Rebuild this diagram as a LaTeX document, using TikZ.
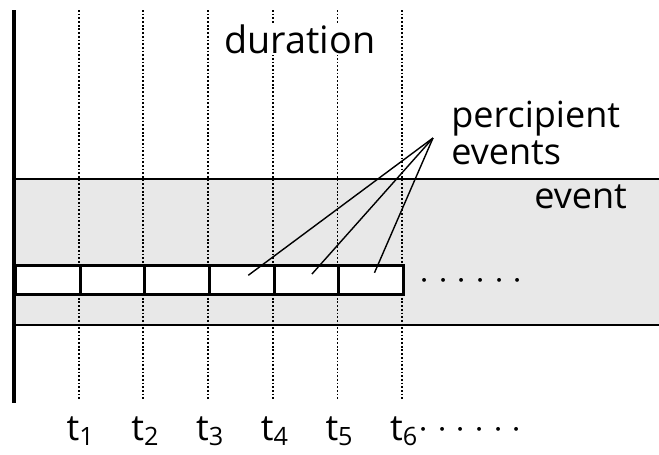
\documentclass[tikz,border=0pt]{standalone}
\usepackage{fontspec}
\setmainfont{Open Sans}
\usetikzlibrary{positioning}

\newcommand{\moredots}{\foreach \k in {1,...,6}{$\cdot$\hspace{4.9pt}}}

\begin{document}
\begin{tikzpicture}[x=0.02cm,y=-0.02cm,
  every node/.style={font=\fontsize{20.5}{21}\selectfont},
  cell/.style={draw,line width=1.7pt,fill=white,minimum width=1.294cm,
    minimum height=0.58cm,inner sep=0pt,anchor=west},
  tick/.style={line width=1.1pt,dash pattern=on 1pt off 1.1pt}]
\useasboundingbox (0,0) rectangle (659,454);

% the event band
\fill[gray!18] (14,179) rectangle (659,325);
\draw[line width=1.2pt] (14,179) -- (659,179) (14,325) -- (659,325);

% time grid and its labels
\foreach \i in {1,...,6}{
\coordinate (g\i) at ({14+64.7*\i},10);
\draw[tick] (g\i) -- ++(0,390);
\node[anchor=base,inner sep=0pt] (t\i) at ({16+64.7*\i},440) {t\textsubscript{\i}};
}
\node[anchor=west,inner sep=0pt] (tmore) at (418,430) {\moredots};

\node[fill=white,inner sep=1pt,anchor=base] (dur) at (300,53) {\fontsize{21.5}{22}\selectfont duration};

% percipient events as a row of cells
\foreach \i [count=\n] in {0,...,5}
\node[cell] (b\n) at ({14+64.7*\i},280) {};
\node[anchor=west,inner sep=0pt] (more) at (419,281) {\moredots};

\draw[line width=2.3pt] (14,10) -- (14,403);

\node[align=left,anchor=west,inner sep=0pt] (perc) at (451,133) {percipient\\events};
\node[anchor=base west,inner sep=0pt] (ev) at (534,208) {event};

\coordinate (tip) at (433,138);
\foreach \i in {4,5,6}
\draw[line width=0.8pt,shorten >=4.5pt] (tip) -- (b\i.center);
\end{tikzpicture}
\end{document}
